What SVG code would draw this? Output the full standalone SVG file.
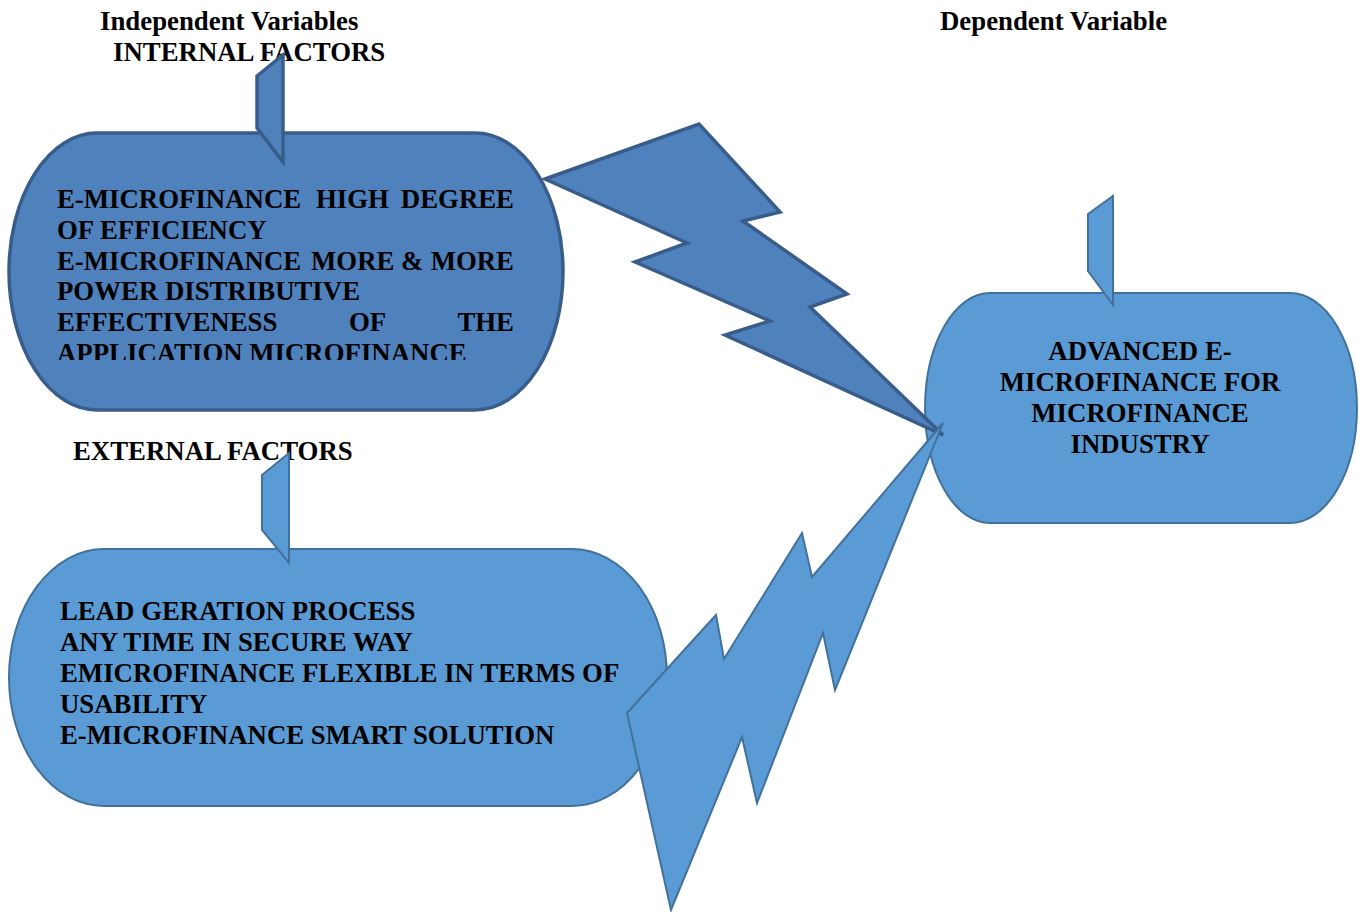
<svg xmlns="http://www.w3.org/2000/svg" width="1362" height="912" viewBox="0 0 1362 912">
<style>
.t{font-family:"Liberation Serif","Times New Roman",serif;font-weight:bold;font-size:26.8px;fill:#000}
.dark{fill:#4F81BD;stroke:#385D8A;stroke-width:3.5;stroke-linejoin:miter}
.light{fill:#5B9BD5;stroke:#41719C;stroke-width:2;stroke-linejoin:miter}
</style>
<defs>
<clipPath id="clipInt"><rect x="40" y="170" width="500" height="190"/></clipPath>
</defs>
<rect width="1362" height="912" fill="#fff"/>
<g id="headers">
<text class="t" x="100" y="30">Independent Variables</text>
<text class="t" x="113" y="61">INTERNAL FACTORS</text>
<text class="t" x="940" y="30">Dependent Variable</text>
<text class="t" x="73" y="460">EXTERNAL FACTORS</text>
</g>
<g id="internal">
<path class="dark" d="M97,133 H475 A88,138.5 0 0 1 475,410 H97 A88,138.5 0 0 1 97,133 Z"/>
<polygon class="dark" points="257,76 283,55 283,162 257,128"/>
<g clip-path="url(#clipInt)">
<text class="t" x="57" y="208">E-MICROFINANCE</text>
<text class="t" x="316" y="208">HIGH</text>
<text class="t" x="514" y="208" text-anchor="end">DEGREE</text>
<text class="t" x="57" y="239">OF EFFICIENCY</text>
<text class="t" x="57" y="270">E-MICROFINANCE</text>
<text class="t" x="311" y="270">MORE</text>
<text class="t" x="401" y="270">&amp;</text>
<text class="t" x="514" y="270" text-anchor="end">MORE</text>
<text class="t" x="57" y="300">POWER DISTRIBUTIVE</text>
<text class="t" x="57" y="331">EFFECTIVENESS</text>
<text class="t" x="349" y="331">OF</text>
<text class="t" x="514" y="331" text-anchor="end">THE</text>
<text class="t" x="57" y="362">APPLICATION MICROFINANCE</text>
</g>
</g>
<g id="dependent">
<path class="light" d="M990,293 H1290 A67,115 0 0 1 1290,523 H990 A65,115 0 0 1 990,293 Z"/>
<polygon class="light" points="1088,214 1113,196 1113,305 1088,271"/>
<text class="t" x="1140" y="360" text-anchor="middle">ADVANCED E-</text>
<text class="t" x="1140" y="391" text-anchor="middle">MICROFINANCE FOR</text>
<text class="t" x="1140" y="422" text-anchor="middle">MICROFINANCE</text>
<text class="t" x="1140" y="453" text-anchor="middle">INDUSTRY</text>
</g>
<g id="external">
<path class="light" d="M104,549 H572 A95,128.5 0 0 1 572,806 H104 A95,128.5 0 0 1 104,549 Z"/>
<polygon class="light" points="262,475 289,453 289,563 262,530"/>
<text class="t" x="60" y="620">LEAD GERATION PROCESS</text>
<text class="t" x="60" y="651">ANY TIME IN SECURE WAY</text>
<text class="t" x="60" y="682">EMICROFINANCE FLEXIBLE IN TERMS OF</text>
<text class="t" x="60" y="713">USABILITY</text>
<text class="t" x="60" y="744">E-MICROFINANCE SMART SOLUTION</text>
</g>
<g id="connectors">
<polygon class="dark" points="545,179 699,124 780,212 743,221 847,294 810,307 943,435 725,335 770,321 635,262 687,243"/>
<polygon class="light" points="627,713 716,615 724,659 802,533 812,577 943,423 835,690 823,633 757,803 742,737 671,910"/>
</g>
</svg>
